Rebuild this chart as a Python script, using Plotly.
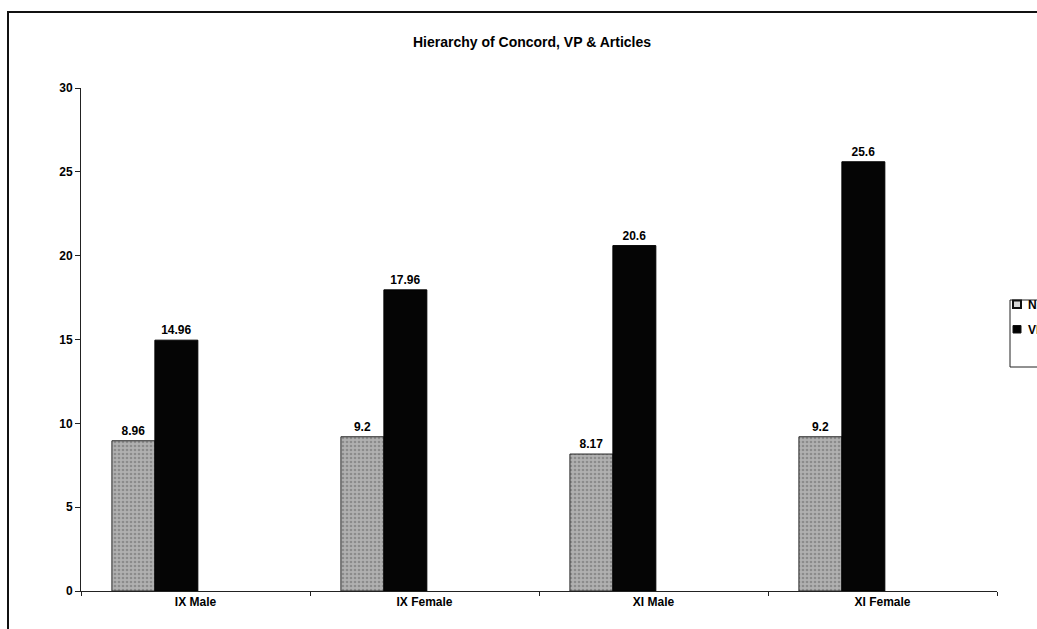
import plotly.graph_objects as go

# Scores per group
categories = ["IX Male", "IX Female", "XI Male", "XI Female"]
np_scores = [8.96, 9.2, 8.17, 9.2]
vp_scores = [14.96, 17.96, 20.6, 25.6]
series_names = ["NP", "VP"]
y_ticks = [0, 5, 10, 15, 20, 25, 30]

W, H = 1037, 629
L, R, T, B = 81, 40, 88, 38
plot_w = W - L - R
plot_h = H - T - B

FONT = "Arial, 'Liberation Sans', sans-serif"
bar_w = 0.1876
np_fill = dict(shape=".", fgcolor="#666666", bgcolor="#b0b0b0", size=4, solidity=0.35)


def px_x(px):
    return (px - L) / plot_w


def px_y(py):
    return (H - B - py) / plot_h


fig = go.Figure()
fig.add_trace(go.Bar(
    x=categories, y=np_scores, name=series_names[0],
    width=bar_w, offset=-0.365,
    marker=dict(color="#acacac", line=dict(color="#2a2a2a", width=1), pattern=np_fill),
    text=[f"{v:g}" for v in np_scores], textposition="outside",
    textfont=dict(family=FONT, size=12, color="black", weight="bold"),
    cliponaxis=False, showlegend=False,
))
fig.add_trace(go.Bar(
    x=categories, y=vp_scores, name=series_names[1],
    width=bar_w, offset=-0.365 + bar_w,
    marker=dict(color="#050505", line=dict(color="#000000", width=1)),
    text=[f"{v:g}" for v in vp_scores], textposition="outside",
    textfont=dict(family=FONT, size=12, color="black", weight="bold"),
    cliponaxis=False, showlegend=False,
))

shapes = [
    # Outer frame of the chart area
    dict(type="rect", xref="paper", yref="paper",
         x0=px_x(8), x1=px_x(W + 20), y0=px_y(H + 20), y1=px_y(12),
         line=dict(color="#111111", width=2), fillcolor="rgba(0,0,0,0)", layer="below"),
    # Legend box
    dict(type="rect", xref="paper", yref="paper",
         x0=px_x(1010), x1=px_x(W + 20), y0=px_y(367), y1=px_y(300),
         line=dict(color="#222222", width=1), fillcolor="white"),
    # Legend keys
    dict(type="rect", xref="paper", yref="paper",
         x0=px_x(1013), x1=px_x(1021), y0=px_y(308), y1=px_y(300.5),
         line=dict(color="#111111", width=2), fillcolor="#d8d8d8"),
    dict(type="rect", xref="paper", yref="paper",
         x0=px_x(1013), x1=px_x(1021), y0=px_y(333), y1=px_y(325.5),
         line=dict(color="#111111", width=1), fillcolor="#000000"),
]

annotations = [
    dict(text=f"<b>{name}</b>", xref="paper", yref="paper",
         x=px_x(1026), y=px_y(yy), xanchor="left", yanchor="middle",
         showarrow=False, font=dict(family=FONT, size=12, color="black"))
    for name, yy in zip(series_names, [304.5, 329.5])
]

fig.update_layout(
    width=W, height=H,
    margin=dict(l=L, r=R, t=T, b=B, autoexpand=False),
    paper_bgcolor="white", plot_bgcolor="white",
    barmode="overlay",
    title=dict(text="<b>Hierarchy of Concord, VP & Articles</b>",
               x=532 / W, xref="container", xanchor="center",
               y=1 - 42 / H, yref="container", yanchor="middle",
               font=dict(family=FONT, size=14, color="black")),
    font=dict(family=FONT, size=12, color="black"),
    showlegend=False,
    shapes=shapes,
    annotations=annotations,
    xaxis=dict(type="category", range=[-0.5, 3.5],
               showline=True, linecolor="#222222", linewidth=1,
               ticks="outside", tickson="boundaries", ticklen=4,
               tickcolor="#222222", showgrid=False,
               tickfont=dict(family=FONT, size=12, color="black", weight="bold")),
    yaxis=dict(range=[0, 30], tickvals=y_ticks,
               showline=True, linecolor="#222222", linewidth=1,
               ticks="outside", ticklen=5, tickcolor="#222222",
               showgrid=False, zeroline=False,
               tickfont=dict(family=FONT, size=12, color="black", weight="bold")),
)

fig.write_html("out.html")
